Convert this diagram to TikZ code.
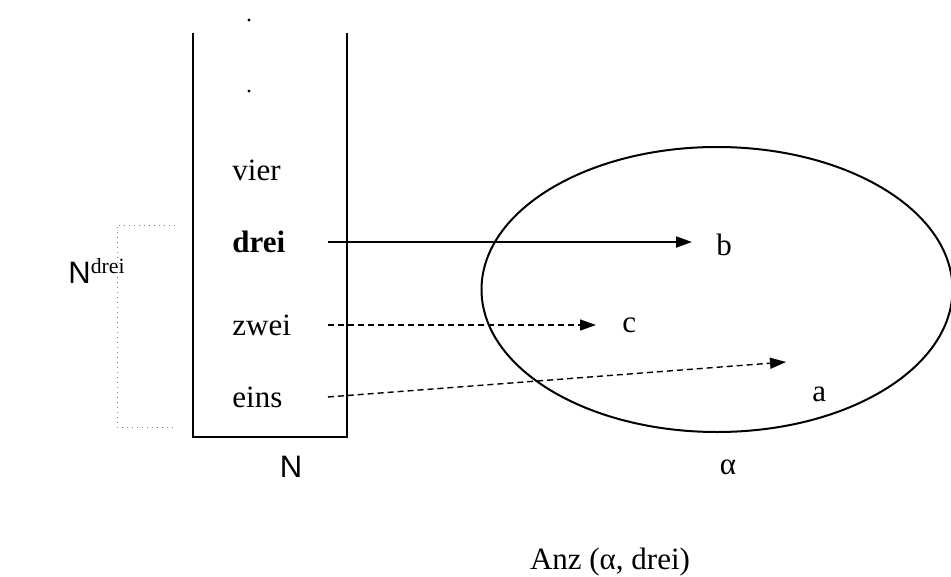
\documentclass[tikz,border=0pt]{standalone}
\usepackage{fontspec}
\setmainfont{Liberation Serif}
\newfontfamily\arialfont{Liberation Sans}
\usetikzlibrary{arrows.meta,shapes.geometric}
\begin{document}
\begin{tikzpicture}[x=0.5pt,y=-0.5pt,font=\fontsize{15.5}{18}\selectfont,
  elem/.style={anchor=west, inner sep=0pt, text width=47.5pt, align=left},
  target/.style={anchor=west, inner sep=0pt},
  solidarrow/.style={line width=1pt, -{Triangle[length=8pt,width=5.5pt]}},
  dasharrow/.style={line width=0.7pt, dash pattern=on 3pt off 2pt, -{Triangle[length=8pt,width=5.5pt]}}]
% Pixel frame 951 x 577
\useasboundingbox (0,0) rectangle (951,577);

% Column rows (y centers)
\def\yD{242}  % drei
\def\yZ{325}  % zwei
\def\yE{397}  % eins

% Column N (open at the top)
\draw[line width=1.2pt] (193,33) -- (193,437) -- (347,437) -- (347,33);
\fill (249,20) circle (1.6);
\fill (249,91) circle (1.6);

% Elements
\node[elem] (vier) at (232,170) {vier};
\node[elem] (drei) at (232,\yD) {\textbf{drei}};
\node[elem] (zwei) at (232,\yZ) {zwei};
\node[elem] (eins) at (232,\yE) {eins};

% Set alpha
\node[draw, line width=1pt, ellipse, minimum width=235.5pt, minimum height=142.5pt,
      inner sep=0pt] (menge) at (717,289.5) {};
\node[target] (b) at (716,245) {b};
\node[target] (c) at (622,325) {c};
\node[target] (a) at (812,394) {a};
\coordinate (atip) at (786,362);

% Mapping
\draw[solidarrow] (drei.east) -- ([xshift=-12pt]drei.east -| b.west);
\draw[dasharrow]  (zwei.east) -- ([xshift=-13pt]zwei.east -| c.west);
\draw[dasharrow]  (eins.east) -- (atip);

% Bracket for N^drei
\draw[gray, dotted, line width=0.5pt] (175,225) -- (117,225) -- (117,427) -- (175,427);
\node[anchor=west, inner sep=0pt] (ndrei) at (68,271) {{\arialfont N}\textsuperscript{drei}};

% Labels
\node[inner sep=0pt] (nlabel) at (291,467) {\arialfont N};
\node[inner sep=0pt] (alpha) at (728,467) {α};
\node[inner sep=0pt] (anz) at (610,562) {Anz (α, drei)};
\end{tikzpicture}
\end{document}
